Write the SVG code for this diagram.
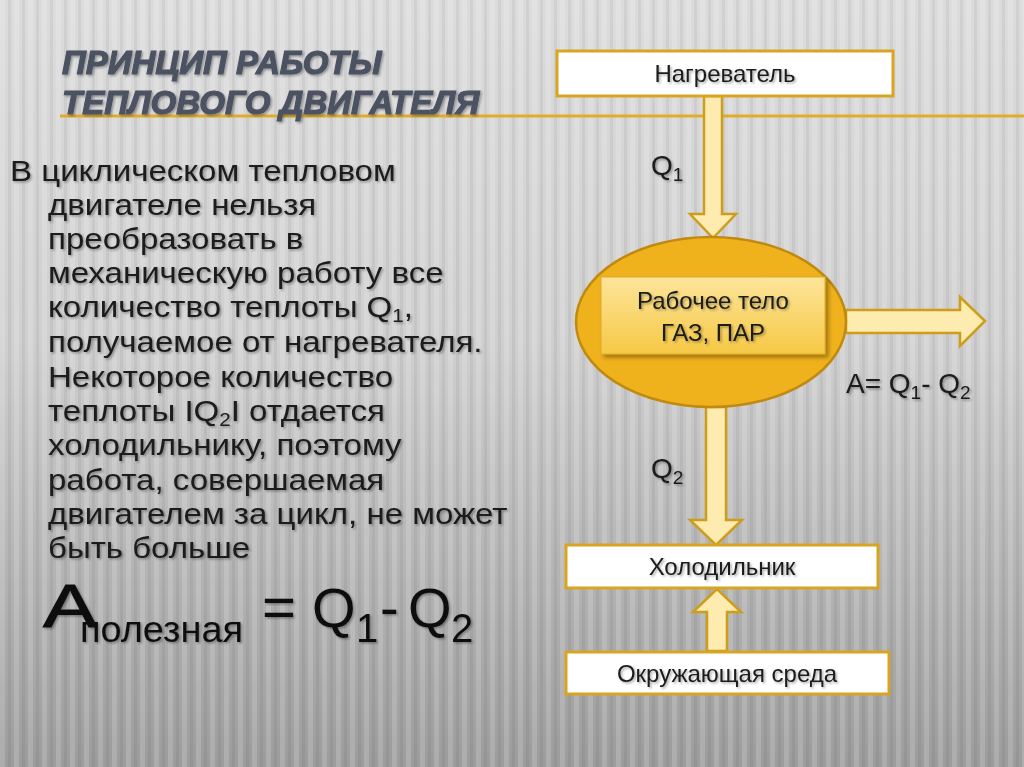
<svg xmlns="http://www.w3.org/2000/svg" width="1024" height="767" viewBox="0 0 1024 767">
<defs>
<linearGradient id="bg" x1="0" y1="0" x2="0" y2="1">
<stop offset="0" stop-color="#dcdcdc"/>
<stop offset="0.45" stop-color="#cfcfcf"/>
<stop offset="1" stop-color="#9c9c9c"/>
</linearGradient>
<pattern id="stripes" width="14" height="767" patternUnits="userSpaceOnUse">
<rect x="0" y="0" width="5" height="767" fill="#ffffff" opacity="0.16"/>
<rect x="8" y="0" width="3" height="767" fill="#000000" opacity="0.05"/>
</pattern>
<linearGradient id="inner" x1="0" y1="0" x2="0" y2="1">
<stop offset="0" stop-color="#fde59a"/>
<stop offset="1" stop-color="#f6c845"/>
</linearGradient>
<filter id="sh" x="-10%" y="-10%" width="130%" height="140%">
<feDropShadow dx="1.5" dy="1.5" stdDeviation="1" flood-color="#000" flood-opacity="0.35"/>
</filter>
<filter id="bsh" x="-10%" y="-10%" width="130%" height="140%">
<feDropShadow dx="3" dy="3" stdDeviation="2" flood-color="#000" flood-opacity="0.35"/>
</filter>
</defs>
<style>
.title{font-family:"Liberation Sans",Arial,sans-serif;font-weight:bold;font-style:italic;font-size:33px;fill:#4c5262;stroke:#4c5262;stroke-width:1.2}
.body{font-family:"Liberation Sans",Arial,sans-serif;font-size:29px;fill:#1a1a1a}
.box{fill:#ffffff;stroke:#d9a520;stroke-width:3}
.lbl{font-family:"Liberation Sans",Arial,sans-serif;font-size:24px;fill:#1a1a1a;text-anchor:middle}
.arrow{fill:#fdebb0;stroke:#cf9d1c;stroke-width:2.5;stroke-linejoin:miter}
.q{font-family:"Liberation Sans",Arial,sans-serif;font-size:28px;fill:#1a1a1a}
.f{font-family:"Liberation Sans",Arial,sans-serif;fill:#111}
</style>
<rect width="1024" height="767" fill="url(#bg)"/>
<rect width="1024" height="767" fill="url(#stripes)"/>
<line x1="60" y1="116" x2="1024" y2="116" stroke="#e0ad2a" stroke-width="3"/>

<g id="title" filter="url(#sh)">
<text class="title" x="62" y="74">ПРИНЦИП РАБОТЫ</text>
<text class="title" x="62" y="114">ТЕПЛОВОГО ДВИГАТЕЛЯ</text>
</g>

<g id="body" filter="url(#sh)">
<g transform="scale(1.14,1)">
<text class="body" x="8.8" y="181">В циклическом тепловом</text>
<text class="body" x="42.1" y="215">двигателе нельзя</text>
<text class="body" x="42.1" y="249">преобразовать в</text>
<text class="body" x="42.1" y="283">механическую работу все</text>
<text class="body" x="42.1" y="317">количество теплоты Q<tspan font-size="18" dy="5">1</tspan><tspan dy="-5">,</tspan></text>
<text class="body" x="42.1" y="352">получаемое от нагревателя.</text>
<text class="body" x="42.1" y="387">Некоторое количество</text>
<text class="body" x="42.1" y="421">теплоты IQ<tspan font-size="18" dy="5">2</tspan><tspan dy="-5">I отдается</tspan></text>
<text class="body" x="42.1" y="455">холодильнику, поэтому</text>
<text class="body" x="42.1" y="490">работа, совершаемая</text>
<text class="body" x="42.1" y="524">двигателем за цикл, не может</text>
<text class="body" x="42.1" y="558">быть больше</text>
</g>
</g>

<g id="formula" filter="url(#sh)">
<text class="f" x="43" y="627" font-size="62" textLength="54" lengthAdjust="spacingAndGlyphs" stroke="#111" stroke-width="1">A</text>
<text class="f" x="80" y="642" font-size="37" textLength="163" lengthAdjust="spacingAndGlyphs">полезная</text>
<text class="f" x="262" y="627" font-size="58">=</text>
<text class="f" x="312" y="627" font-size="56">Q</text>
<text class="f" x="356" y="642" font-size="40">1</text>
<text class="f" x="380" y="627" font-size="56">-</text>
<text class="f" x="408" y="627" font-size="56">Q</text>
<text class="f" x="451" y="642" font-size="40">2</text>
</g>

<g id="connectors">
<path class="arrow" d="M704,96 L722,96 L722,214 L736,214 L713,238 L690,214 L704,214 Z"/>
<path class="arrow" d="M846,310 L960,310 L960,297 L985,321 L960,346 L960,333 L846,333 Z"/>
<path class="arrow" d="M706,407 L726,407 L726,520 L742,520 L716,545 L690,520 L706,520 Z"/>
<path class="arrow" d="M707,651 L727,651 L727,612 L741,612 L717,589 L693,612 L707,612 Z"/>
</g>

<g id="heater">
<rect class="box" x="557" y="51" width="336" height="45"/>
<text class="lbl" x="725" y="82" filter="url(#sh)">Нагреватель</text>
</g>

<g id="q1" filter="url(#sh)">
<text class="q" x="651" y="175">Q<tspan font-size="19" dy="6">1</tspan></text>
</g>

<g id="working-body">
<ellipse cx="711" cy="322" rx="135" ry="85" fill="#f0b21c" stroke="#c08a10" stroke-width="2.5"/>
<rect x="601" y="277" width="224" height="77" fill="url(#inner)" stroke="#e2a92a" stroke-width="1" filter="url(#bsh)"/>
<text class="lbl" x="713" y="309" filter="url(#sh)">Рабочее тело</text>
<text class="lbl" x="713" y="341" filter="url(#sh)">ГАЗ, ПАР</text>
</g>

<g id="work-label" filter="url(#sh)">
<text class="q" x="846" y="393">A= Q<tspan font-size="19" dy="6">1</tspan><tspan dy="-6">- Q</tspan><tspan font-size="19" dy="6">2</tspan></text>
</g>

<g id="q2" filter="url(#sh)">
<text class="q" x="651" y="478">Q<tspan font-size="19" dy="6">2</tspan></text>
</g>

<g id="cooler">
<rect class="box" x="566" y="545" width="312" height="43"/>
<text class="lbl" x="722" y="575" filter="url(#sh)">Холодильник</text>
</g>

<g id="environment">
<rect class="box" x="566" y="652" width="323" height="42"/>
<text class="lbl" x="727" y="682" filter="url(#sh)">Окружающая среда</text>
</g>
</svg>
